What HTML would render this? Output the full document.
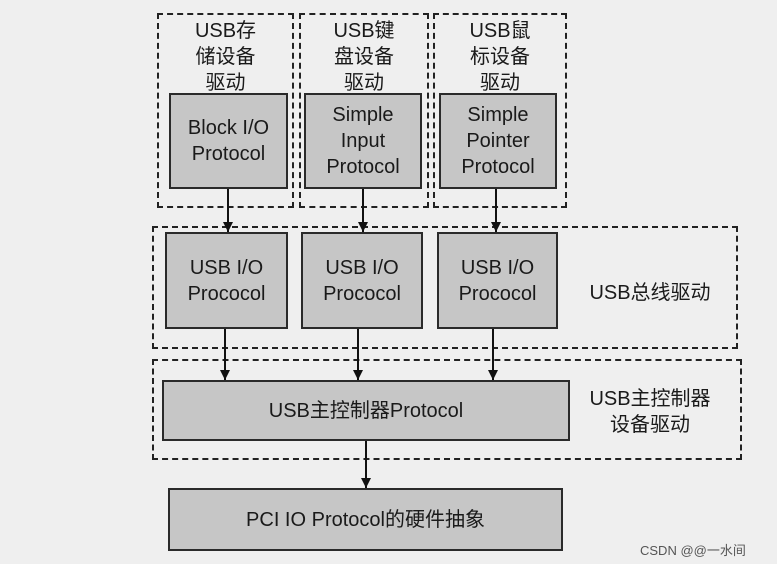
<!DOCTYPE html>
<html><head><meta charset="utf-8"><style>
body{margin:0;width:777px;height:564px;background:#efefef;position:relative;overflow:hidden;font-family:"Liberation Sans","Noto Sans CJK SC",sans-serif;color:#1a1a1a}
.d{position:absolute;border:2px dashed #222;box-sizing:border-box}
.g{position:absolute;background:#c6c6c6;border:2px solid #2a2a2a;box-sizing:border-box;display:flex;align-items:center;justify-content:center;text-align:center;font-size:20px;line-height:26px}
.t{position:absolute;text-align:center;font-size:20px;line-height:26px}
</style></head><body>
<div class="d" style="left:157px;top:13px;width:137px;height:195px"></div>
<div class="d" style="left:299px;top:13px;width:130px;height:195px"></div>
<div class="d" style="left:433px;top:13px;width:134px;height:195px"></div>
<div class="t" style="left:157px;top:18px;width:137px">USB存<br>储设备<br>驱动</div>
<div class="t" style="left:299px;top:18px;width:130px">USB键<br>盘设备<br>驱动</div>
<div class="t" style="left:433px;top:18px;width:134px">USB鼠<br>标设备<br>驱动</div>
<div class="g" style="left:169px;top:93px;width:119px;height:96px">Block I/O<br>Protocol</div>
<div class="g" style="left:304px;top:93px;width:118px;height:96px">Simple<br>Input<br>Protocol</div>
<div class="g" style="left:439px;top:93px;width:118px;height:96px">Simple<br>Pointer<br>Protocol</div>
<div class="d" style="left:152px;top:226px;width:586px;height:123px"></div>
<div class="g" style="left:165px;top:232px;width:123px;height:97px">USB I/O<br>Prococol</div>
<div class="g" style="left:301px;top:232px;width:122px;height:97px">USB I/O<br>Prococol</div>
<div class="g" style="left:437px;top:232px;width:121px;height:97px">USB I/O<br>Prococol</div>
<div class="t" style="left:570px;top:280px;width:160px">USB总线驱动</div>
<div class="d" style="left:152px;top:359px;width:590px;height:101px"></div>
<div class="g" style="left:162px;top:380px;width:408px;height:61px">USB主控制器Protocol</div>
<div class="t" style="left:570px;top:386px;width:160px">USB主控制器<br>设备驱动</div>
<div class="g" style="left:168px;top:488px;width:395px;height:63px">PCI IO Protocol的硬件抽象</div>
<div style="position:absolute;left:640px;top:540px;font-size:13px;color:#555">CSDN @@一水间</div>
<svg style="position:absolute;left:0;top:0" width="777" height="564">
<defs><marker id="a" markerWidth="10" markerHeight="10" refX="10" refY="5" orient="auto" markerUnits="userSpaceOnUse"><path d="M0,0 L10,5 L0,10 z" fill="#111"/></marker></defs>
<g stroke="#111" stroke-width="2" marker-end="url(#a)">
<line x1="228" y1="189" x2="228" y2="232"/>
<line x1="363" y1="189" x2="363" y2="232"/>
<line x1="496" y1="189" x2="496" y2="232"/>
<line x1="225" y1="329" x2="225" y2="380"/>
<line x1="358" y1="329" x2="358" y2="380"/>
<line x1="493" y1="329" x2="493" y2="380"/>
<line x1="366" y1="441" x2="366" y2="488"/>
</g></svg>
</body></html>
